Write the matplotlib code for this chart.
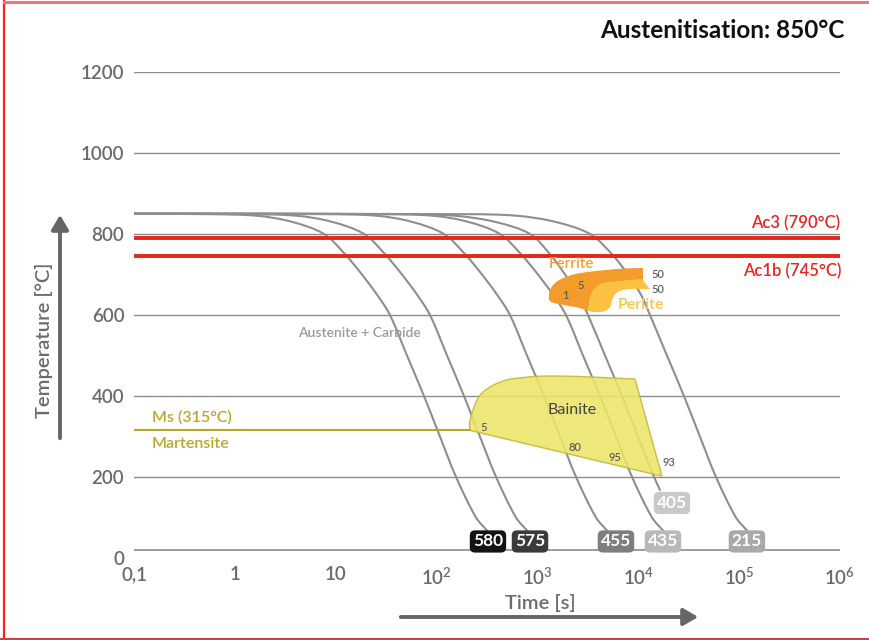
import numpy as np
import matplotlib
matplotlib.use("Agg")
import matplotlib.pyplot as plt
from matplotlib.patches import PathPatch, FancyArrowPatch
from matplotlib.path import Path
from matplotlib.lines import Line2D

plt.rcParams['font.family'] = ['Lato', 'DejaVu Sans']
plt.rcParams['mathtext.fontset'] = 'custom'
plt.rcParams['mathtext.rm'] = 'Lato:semibold'

# ---- data ---------------------------------------------------------------
# cooling curves: temperature levels (°C) and time (s) at which each curve reaches them
curve_temps = [850, 849, 845, 830, 800, 750, 700, 650, 600, 500, 400, 300, 200, 100, 68]
curve_temps_405 = [850, 849, 845, 830, 800, 750, 700, 650, 600, 500, 400, 300, 200, 168]

times_580 = [0.1, 0.53, 1.66, 3.69, 7.65, 12.4, 18.2, 25.7, 34.5, 50.9, 75.0, 108, 156, 246, 316]
times_575 = [0.1, 1.32, 4.14, 9.2, 19.1, 30.9, 45.4, 64.1, 86.0, 127, 187, 269, 389, 613, 788]
times_455 = [0.1, 8.2, 25.7, 57.1, 118, 192, 282, 398, 534, 788, 1161, 1672, 2415, 3808, 4892]
times_435 = [0.1, 29.5, 92.3, 205, 425, 689, 1012, 1429, 1918, 2830, 4170, 6005, 8674, 13678, 17570]
times_405 = [0.1, 48.7, 153, 379, 844, 1332, 1877, 2525, 3171, 4678, 6893, 9925, 14336, 16400]
times_215 = [0.1, 200, 627, 1500, 3321, 5483, 7907, 10636, 13062, 19240, 28350, 40824, 58968, 92988, 119448]

hardness = [580, 575, 455, 435, 405, 215]

# phase fields (time s, temperature °C)
ferrite_top_t = [3173, 2642, 1792, 1332, 1302, 1332, 1494, 1792, 2357, 3321, 5242, 7383, 11134]
ferrite_top_T = [610, 617, 625, 634, 647, 662, 679, 691, 701, 707, 712, 715, 716]
ferrite_inner_t = [11134, 4467, 3321]
ferrite_inner_T = [681, 670, 640]

perlite_top_t = [3173, 3321, 3722, 4467, 6586, 10880]
perlite_top_T = [610, 644, 667, 679, 684, 689]
perlite_low_t = [13062, 8275, 6292, 5614, 5242, 4677, 3895, 3173]
perlite_low_T = [664, 664, 657, 642, 620, 610, 607, 610]

bainite_top_t = [214.5, 212, 229.6, 269.5, 354.4, 499, 753, 1060, 1877, 3321, 5875, 9268]
bainite_top_T = [315, 333, 365, 402, 425, 440, 446, 449, 449, 447, 444, 442]
bainite_tip_t = 17180
bainite_tip_T = 202

ac3 = 790
ac1b = 745
ms = 315

x_ticks = [0.1, 1, 10, 1e2, 1e3, 1e4, 1e5, 1e6]
x_tick_labels = ['0,1', '1', '10', r'$10^{2}$', r'$10^{3}$', r'$10^{4}$', r'$10^{5}$', r'$10^{6}$']
y_ticks = [0, 200, 400, 600, 800, 1000, 1200]

# ---- styling ------------------------------------------------------------
GRID = '#8c8c8c'
TXT = '#6b6b6b'
CURVE = '#8e8e8e'
RED = '#e5261b'
OLIVE = '#b9a72a'
BOX_COLORS = ['#141414', '#3a3a3a', '#7e7e7e', '#b9b9b9', '#c9c9c9', '#a9a9a9']

# pixel scale of the plot (per decade / per °C), used to shape the smooth strokes
SX, SY = 100.86, 0.405


def smooth_segments(ts, Ts):
    """Bezier pieces through the given points (log-time space); returns verts, codes w/o MOVETO."""
    p = np.column_stack([np.log10(ts) * SX, np.asarray(Ts, float) * SY])
    n = len(p)
    verts, codes = [], []
    tang = []
    for i in range(n):
        a = p[max(i - 1, 0)]
        b = p[min(i + 1, n - 1)]
        d = b - a
        nrm = np.hypot(*d)
        tang.append(d / nrm if nrm > 0 else d)
    for i in range(n - 1):
        seg = np.hypot(*(p[i + 1] - p[i]))
        c1 = p[i] + tang[i] * seg / 3
        c2 = p[i + 1] - tang[i + 1] * seg / 3
        verts += [c1, c2, p[i + 1]]
        codes += [Path.CURVE4] * 3
    verts = [(10 ** (v[0] / SX), v[1] / SY) for v in verts]
    return verts, codes


def smooth_path(ts, Ts):
    v, c = smooth_segments(ts, Ts)
    return Path([(ts[0], Ts[0])] + v, [Path.MOVETO] + c)


W, H = 870, 640
fig = plt.figure(figsize=(W / 100, H / 100), dpi=100)
fig.patch.set_facecolor('white')

def fx(px):
    return px / W

def fy(py):
    return 1 - py / H

ax = fig.add_axes([fx(134), fy(558), fx(840) - fx(134), fy(72) - fy(558)])
ax.set_xscale('log')
ax.set_xlim(0.1, 1e6)
ax.set_ylim(0, 1200)
for s in ax.spines.values():
    s.set_visible(False)
ax.set_facecolor('none')

# horizontal grid and baseline
for y in y_ticks[1:]:
    ax.axhline(y, color=GRID, lw=1.0, zorder=1)
ax.axhline(19, color=GRID, lw=1.2, zorder=1)

ax.set_xticks(x_ticks)
ax.set_xticklabels(x_tick_labels)
ax.minorticks_off()
ax.set_yticks(y_ticks)
ax.tick_params(axis='both', length=0, colors=TXT, labelsize=13.5)
ax.tick_params(axis='y', pad=7)
ax.tick_params(axis='x', pad=6)
for lab in ax.get_xticklabels() + ax.get_yticklabels():
    lab.set_fontweight('semibold')

# Ac lines
ax.axhline(ac3, color=RED, lw=2.8, zorder=3)
ax.axhline(ac1b, color=RED, lw=2.8, zorder=3)
ax.text(1e6, 827, 'Ac3 (790°C)', color=RED, fontsize=12, ha='right', va='center', fontweight='semibold')
ax.text(1.04e6, 709, 'Ac1b (745°C)', color=RED, fontsize=12, ha='right', va='center', fontweight='semibold')

# cooling curves
curves = [(times_580, curve_temps), (times_575, curve_temps), (times_455, curve_temps),
          (times_435, curve_temps), (times_405, curve_temps_405), (times_215, curve_temps)]
for t, T in curves:
    ax.add_patch(PathPatch(smooth_path(t, T), fc='none', ec=CURVE, lw=1.5, zorder=2,
                           capstyle='round', joinstyle='round'))

# Ms line and martensite
ax.plot([0.1, bainite_top_t[0]], [ms, ms], color=OLIVE, lw=1.5, zorder=4)
ax.text(0.151, 348, 'Ms (315°C)', color=OLIVE, fontsize=11.5, va='center', ha='left', fontweight='semibold')
ax.text(0.151, 281, 'Martensite', color=OLIVE, fontsize=11.5, va='center', ha='left', fontweight='semibold')

# bainite field: smooth upper boundary, straight right and lower edges
bv, bc = smooth_segments(bainite_top_t, bainite_top_T)
b_verts = [(bainite_top_t[0], bainite_top_T[0])] + bv + [(bainite_tip_t, bainite_tip_T),
                                                          (bainite_top_t[0], bainite_top_T[0])]
b_codes = [Path.MOVETO] + bc + [Path.LINETO, Path.CLOSEPOLY]
ax.add_patch(PathPatch(Path(b_verts, b_codes), fc='#ece468', ec='#c4b53a', lw=1.0, alpha=0.88, zorder=3))

# ferrite field
fv, fc_ = smooth_segments(ferrite_top_t, ferrite_top_T)
f_verts = [(ferrite_top_t[0], ferrite_top_T[0])] + fv + list(zip(ferrite_inner_t, ferrite_inner_T)) \
    + [(ferrite_top_t[0], ferrite_top_T[0])]
f_codes = [Path.MOVETO] + fc_ + [Path.LINETO] * len(ferrite_inner_t) + [Path.CLOSEPOLY]
ax.add_patch(PathPatch(Path(f_verts, f_codes), fc='#f39c2c', ec='none', zorder=4))

# pearlite field
pv1, pc1 = smooth_segments(perlite_top_t, perlite_top_T)
pv2, pc2 = smooth_segments(perlite_low_t, perlite_low_T)
p_verts = [(perlite_top_t[0], perlite_top_T[0])] + pv1 + [(perlite_low_t[0], perlite_low_T[0])] + pv2 \
    + [(perlite_top_t[0], perlite_top_T[0])]
p_codes = [Path.MOVETO] + pc1 + [Path.LINETO] + pc2 + [Path.CLOSEPOLY]
ax.add_patch(PathPatch(Path(p_verts, p_codes), fc='#fbc242', ec='none', zorder=5))

ax.text(2153, 726, 'Ferrite', color='#f5a033', fontsize=11, ha='center', va='center', fontweight='semibold',
        zorder=6)
ax.text(10636, 625, 'Perlite', color='#fbc540', fontsize=11.5, ha='center', va='center', fontweight='semibold', zorder=6)
ax.text(2203, 365, 'Bainite', color='#444444', fontsize=11.5, ha='center', va='center', zorder=6)
ax.text(17.0, 556, 'Austenite + Carbide', color='#9a9a9a', fontsize=10, ha='center', va='center',
        fontweight='semibold', zorder=6)

small = dict(color='#5f5f5f', fontsize=8, ha='center', va='center', zorder=7, fontweight='semibold')
ax.text(1877, 649, '1', **small)
ax.text(2704, 674, '5', **small)
ax.text(15670, 699, '50', **small)
ax.text(15670, 662, '50', **small)
ax.text(295, 321, '5', **small)
ax.text(2357, 274, '80', **small)
ax.text(5875, 249, '95', **small)
ax.text(20180, 237, '93', **small)

# hardness boxes at curve ends
box_offsets = [(1, -11), (3, -11), (9, -11), (0, -11), (12, -13), (0, -11)]
for (t, T), hv, col, (dx, dy) in zip(curves, hardness, BOX_COLORS, box_offsets):
    ax.annotate(str(hv), xy=(t[-1], T[-1]), xytext=(dx, dy), textcoords='offset pixels',
                ha='center', va='center', color='white', fontsize=12.5, fontweight='bold', zorder=8,
                bbox=dict(boxstyle='round,pad=0.18,rounding_size=0.3', fc=col, ec='none'))

# axis titles with arrows
fig.text(fx(44), fy(340), 'Temperature [°C]', rotation=90, ha='center', va='center',
         color=TXT, fontsize=14.5, fontweight='semibold')
fig.patches.append(FancyArrowPatch((fx(60), fy(441)), (fx(60), fy(212)), transform=fig.transFigure,
                                   arrowstyle='-|>,head_length=5.5,head_width=3.2', color='#666666', lw=2.8,
                                   mutation_scale=1.6))
fig.text(fx(540), fy(603), 'Time [s]', ha='center', va='center', color=TXT, fontsize=14.5,
         fontweight='semibold')
fig.patches.append(FancyArrowPatch((fx(398), fy(617)), (fx(701), fy(617)), transform=fig.transFigure,
                                   arrowstyle='-|>,head_length=5.5,head_width=3.2', color='#666666', lw=2.8,
                                   mutation_scale=1.6))

fig.text(fx(845), fy(30), 'Austenitisation: 850°C', ha='right', va='center', color='#111111',
         fontsize=17.5, fontweight='bold')

# frame
fig.add_artist(Line2D([fx(4), fx(4)], [fy(0), fy(640)], color='#ff2020', lw=1.6, transform=fig.transFigure))
fig.add_artist(Line2D([fx(4), fx(870)], [fy(2), fy(2)], color='#e9777e', lw=2.2, transform=fig.transFigure))
fig.add_artist(Line2D([fx(0), fx(870)], [fy(638.5), fy(638.5)], color='#d23a3a', lw=1.4, transform=fig.transFigure))

fig.savefig('out.png', dpi=100, facecolor='white')
